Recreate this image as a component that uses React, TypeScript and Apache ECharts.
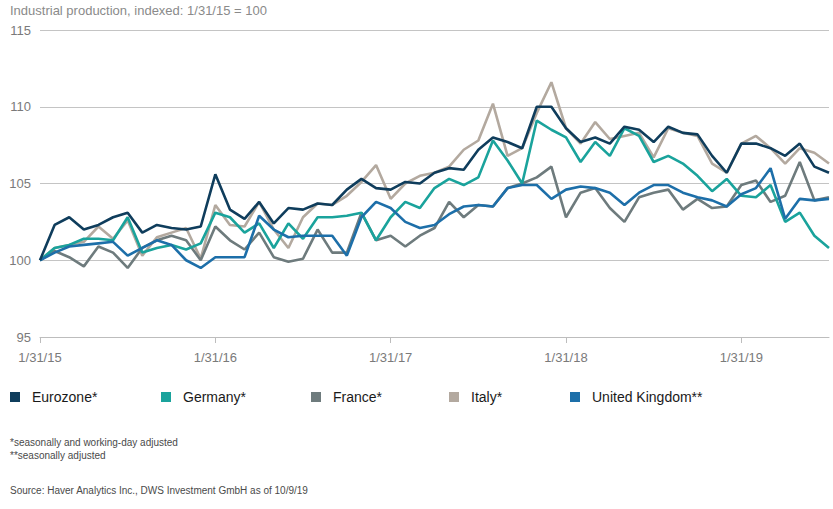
import React, { useEffect, useRef } from "react";
import * as echarts from "echarts";

// Month-end dates, Jan 2015 .. Jul 2019
const months: string[] = (() => {
  const out: string[] = [];
  for (let y = 2015; y <= 2019; y++) {
    for (let m = 1; m <= 12; m++) {
      if (y === 2019 && m > 7) break;
      const d = new Date(y, m, 0).getDate();
      out.push(`${m}/${d}/${String(y).slice(2)}`);
    }
  }
  return out;
})();

const eurozone = [
  100.0, 102.3, 102.8, 102.0, 102.3, 102.8, 103.1, 101.8, 102.3, 102.1, 102.0, 102.2,
  105.6, 103.3, 102.7, 103.8, 102.4, 103.4, 103.3, 103.7, 103.6, 104.6, 105.3, 104.7,
  104.6, 105.1, 105.0, 105.7, 106.0, 105.9, 107.2, 108.0, 107.7, 107.3, 110.0, 110.0,
  108.6, 107.7, 108.0, 107.6, 108.7, 108.5, 107.7, 108.7, 108.3, 108.2, 106.8, 105.7,
  107.6, 107.6, 107.3, 106.8, 107.6, 106.1, 105.7,
];
const germany = [
  100.0, 100.8, 101.0, 101.4, 101.4, 101.3, 102.8, 100.5, 100.8, 101.0, 100.7, 101.1,
  103.1, 102.8, 101.8, 102.4, 100.8, 102.4, 101.4, 102.8, 102.8, 102.9, 103.1, 101.3,
  102.8, 103.8, 103.4, 104.7, 105.3, 104.9, 105.4, 107.8, 106.5, 105.0, 109.1, 108.5,
  108.0, 106.4, 107.7, 106.8, 108.6, 108.1, 106.4, 106.8, 106.3, 105.5, 104.5, 105.3,
  104.2, 104.1, 104.9, 102.5, 103.1, 101.6, 100.8,
];
const france = [
  100.0, 100.6, 100.2, 99.6, 100.9, 100.5, 99.5, 100.8, 101.3, 101.6, 101.3, 100.0,
  102.2, 101.3, 100.7, 101.8, 100.2, 99.9, 100.1, 102.0, 100.5, 100.5, 103.1, 101.3,
  101.6, 100.9, 101.6, 102.1, 103.8, 102.8, 103.6, 103.5, 104.7, 105.0, 105.4, 106.1,
  102.8, 104.4, 104.7, 103.4, 102.5, 104.1, 104.4, 104.6, 103.3, 104.0, 103.4, 103.5,
  104.9, 105.2, 103.8, 104.2, 106.4, 103.9, 104.1,
];
const italy = [
  100.0, 100.8, 101.0, 101.2, 102.2, 101.4, 102.6, 100.3, 101.5, 101.8, 102.1, 100.1,
  103.6, 102.3, 102.2, 103.8, 102.0, 100.8, 102.8, 103.7, 103.6, 104.2, 105.1, 106.2,
  104.0, 105.0, 105.5, 105.7, 106.1, 107.2, 107.8, 110.2, 106.8, 107.3, 109.6, 111.6,
  108.6, 107.6, 109.0, 107.9, 108.1, 108.3, 106.7, 108.6, 108.3, 108.1, 106.3, 105.7,
  107.6, 108.1, 107.3, 106.3, 107.3, 107.0, 106.3,
];
const unitedKingdom = [
  100.0, 100.5, 100.9, 101.0, 101.1, 101.2, 100.3, 100.8, 101.3, 101.0, 100.0, 99.5,
  100.2, 100.2, 100.2, 102.9, 102.0, 101.5, 101.6, 101.6, 101.6, 100.3, 102.8, 103.8,
  103.4, 102.5, 102.1, 102.3, 103.0, 103.5, 103.6, 103.5, 104.7, 104.9, 104.9, 104.0,
  104.6, 104.8, 104.7, 104.4, 103.6, 104.4, 104.9, 104.9, 104.4, 104.1, 103.9, 103.5,
  104.3, 104.7, 106.0, 102.7, 104.0, 103.9, 104.0,
];

const seriesNames = ["Eurozone*", "Germany*", "France*", "Italy*", "United Kingdom**"];
const seriesColors = ["#0f3d5c", "#1aa39c", "#6e7b7d", "#b3a99f", "#1d6fa9"];
const legendLefts = [5, 156, 306, 444, 565];

const title = "Industrial production, indexed: 1/31/15 = 100";
const footnote1 = "*seasonally and working-day adjusted";
const footnote2 = "**seasonally adjusted";
const source = "Source: Haver Analytics Inc., DWS Investment GmbH as of 10/9/19";

const FONT = "'Liberation Sans', Arial, sans-serif";

export default function App() {
  const ref = useRef<HTMLDivElement>(null);
  useEffect(() => {
    document.body.style.margin = "0";
    if (!ref.current) return;
    const chart = echarts.init(ref.current, undefined, { renderer: "svg" });
    const data = [eurozone, germany, france, italy, unitedKingdom];
    const drawOrder = [3, 2, 1, 4, 0];
    chart.setOption({
      animation: false,
      textStyle: { fontFamily: FONT },
      grid: { left: 40, right: 4, top: 30, bottom: 172, containLabel: false },
      legend: seriesNames.map((n, i) => ({
        data: [n],
        left: legendLefts[i],
        top: 385,
        icon: "rect",
        itemWidth: 10,
        itemHeight: 10,
        selectedMode: false,
        textStyle: {
          fontFamily: FONT,
          fontSize: 14,
          color: "#1a1a1a",
          padding: [0, 0, 0, 7],
        },
      })),
      xAxis: {
        type: "category",
        data: months,
        boundaryGap: false,
        axisLine: { lineStyle: { color: "#bdbdbd", width: 1 } },
        axisTick: {
          interval: (idx: number) => idx % 12 === 0,
          length: 6,
          lineStyle: { color: "#bdbdbd" },
        },
        axisLabel: {
          interval: (idx: number) => idx % 12 === 0,
          color: "#7a7a7a",
          fontSize: 13,
          margin: 14,
          fontFamily: FONT,
        },
        splitLine: { show: false },
      },
      yAxis: {
        type: "value",
        min: 95,
        max: 115,
        interval: 5,
        axisLine: { show: false },
        axisTick: { show: false },
        axisLabel: { color: "#7a7a7a", fontSize: 13, margin: 9, fontFamily: FONT },
        splitLine: { lineStyle: { color: "#c4c4c4", width: 1 } },
      },
      series: drawOrder.map((i) => ({
        name: seriesNames[i],
        type: "line",
        data: data[i],
        symbol: "none",
        color: seriesColors[i],
        lineStyle: { width: 2.6, color: seriesColors[i] },
      })),
      graphic: [
        {
          type: "text",
          left: 10,
          top: 4,
          style: { text: title, fill: "#8a8a8a", fontSize: 13, fontFamily: FONT },
        },
        {
          type: "text",
          left: 10,
          top: 437,
          style: { text: footnote1, fill: "#4a4a4a", fontSize: 10, fontFamily: FONT },
        },
        {
          type: "text",
          left: 10,
          top: 450,
          style: { text: footnote2, fill: "#4a4a4a", fontSize: 10, fontFamily: FONT },
        },
        {
          type: "text",
          left: 10,
          top: 485,
          style: { text: source, fill: "#4a4a4a", fontSize: 10, fontFamily: FONT },
        },
      ],
    });
    return () => chart.dispose();
  }, []);
  return <div ref={ref} style={{ width: 833, height: 509 }} />;
}
